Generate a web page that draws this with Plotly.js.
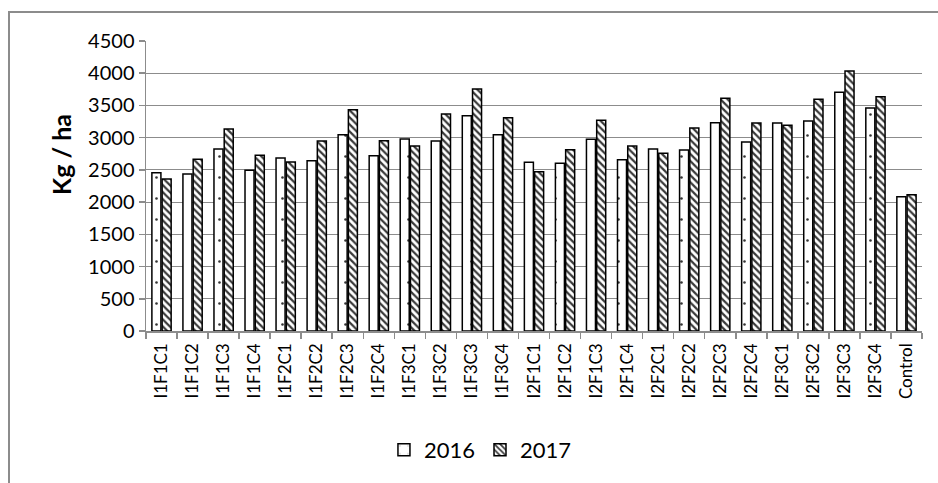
<!DOCTYPE html>
<html>
<head>
<meta charset="utf-8">
<script src="https://cdn.plot.ly/plotly-3.0.1.min.js"></script>
<style>
  html, body { margin: 0; padding: 0; background: #fff; overflow: hidden; }
  #frame { position: absolute; left: 8px; top: 11px; width: 2000px; height: 2000px;
           border-left: 2px solid #8c8c8c; border-top: 2px solid #8c8c8c; pointer-events: none; z-index: 5; }
  #chart { position: absolute; left: 0; top: 0; width: 938px; height: 483px; }
</style>
</head>
<body>
<div id="chart"></div>
<div id="frame"></div>
<script>
const categories = ["I1F1C1","I1F1C2","I1F1C3","I1F1C4","I1F2C1","I1F2C2","I1F2C3","I1F2C4",
  "I1F3C1","I1F3C2","I1F3C3","I1F3C4","I2F1C1","I2F1C2","I2F1C3","I2F1C4",
  "I2F2C1","I2F2C2","I2F2C3","I2F2C4","I2F3C1","I2F3C2","I2F3C3","I2F3C4","Control"];
const values2016 = [2457,2436,2824,2493,2685,2643,3047,2721,2980,2948,3341,3047,2617,2602,2974,2659,
  2824,2809,3233,2933,3228,3259,3703,3460,2084];
const values2017 = [2359,2664,3135,2726,2623,2948,3435,2954,2871,3368,3755,3310,2472,2814,3269,2871,
  2757,3150,3610,3228,3191,3595,4034,3636,2116];
const seriesNames = ["2016","2017"];
const yTickVals = [0,500,1000,1500,2000,2500,3000,3500,4000,4500];
const yTitle = "Kg / ha";

const FONT = "Lato, 'Open Sans', sans-serif";
const traces = [
  { type: "bar", name: seriesNames[0], x: categories, y: values2016,
    marker: { color: "#ffffff", line: { color: "#000", width: 1.5 },
      pattern: { shape: ".", fgcolor: "#333", bgcolor: "#ffffff", size: 21, solidity: 0.012, fillmode: "replace" } } },
  { type: "bar", name: seriesNames[1], x: categories, y: values2017,
    marker: { color: "#ffffff", line: { color: "#000", width: 1.5 },
      pattern: { shape: "\\", fgcolor: "#3a3a3a", bgcolor: "#ffffff", size: 5, solidity: 0.45, fillmode: "replace" } } }
];

const layout = {
  width: 938, height: 483,
  margin: { l: 146, r: 16, t: 41, b: 152 },
  paper_bgcolor: "#fff", plot_bgcolor: "#fff",
  barmode: "group", bargap: 0.34, bargroupgap: 0.12,
  showlegend: true,
  legend: { orientation: "h", x: 0.431, xanchor: "center", y: -0.41, yanchor: "middle",
            font: { family: FONT, size: 22, color: "#000" }, itemwidth: 30, tracegroupgap: 0 },
  xaxis: { type: "category", tickangle: -90, tickfont: { family: FONT, size: 17, color: "#000" },
           showline: true, linecolor: "#8c8c8c", linewidth: 1.5, ticks: "outside", tickson: "boundaries",
           ticklen: 6, tickcolor: "#8c8c8c", tickwidth: 1.5, showgrid: false, fixedrange: true,
           ticklabelstandoff: 4 },
  yaxis: { range: [0, 4500], tickvals: yTickVals, tickfont: { family: FONT, size: 20, color: "#000" },
           showgrid: true, gridcolor: "#8c8c8c", gridwidth: 1.2, zeroline: false,
           showline: true, linecolor: "#8c8c8c", linewidth: 1.5, ticks: "outside", ticklen: 6,
           tickcolor: "#8c8c8c", tickwidth: 1.5 },
  annotations: [
    { text: "<b>" + yTitle + "</b>", xref: "paper", yref: "paper", x: -0.1095, y: 0.607,
      xanchor: "center", yanchor: "middle", textangle: -90, showarrow: false,
      font: { family: FONT, size: 25, color: "#000" } }
  ],
  font: { family: FONT, color: "#000" }
};

Plotly.newPlot("chart", traces, layout, { displayModeBar: false, staticPlot: true });
</script>
</body>
</html>
